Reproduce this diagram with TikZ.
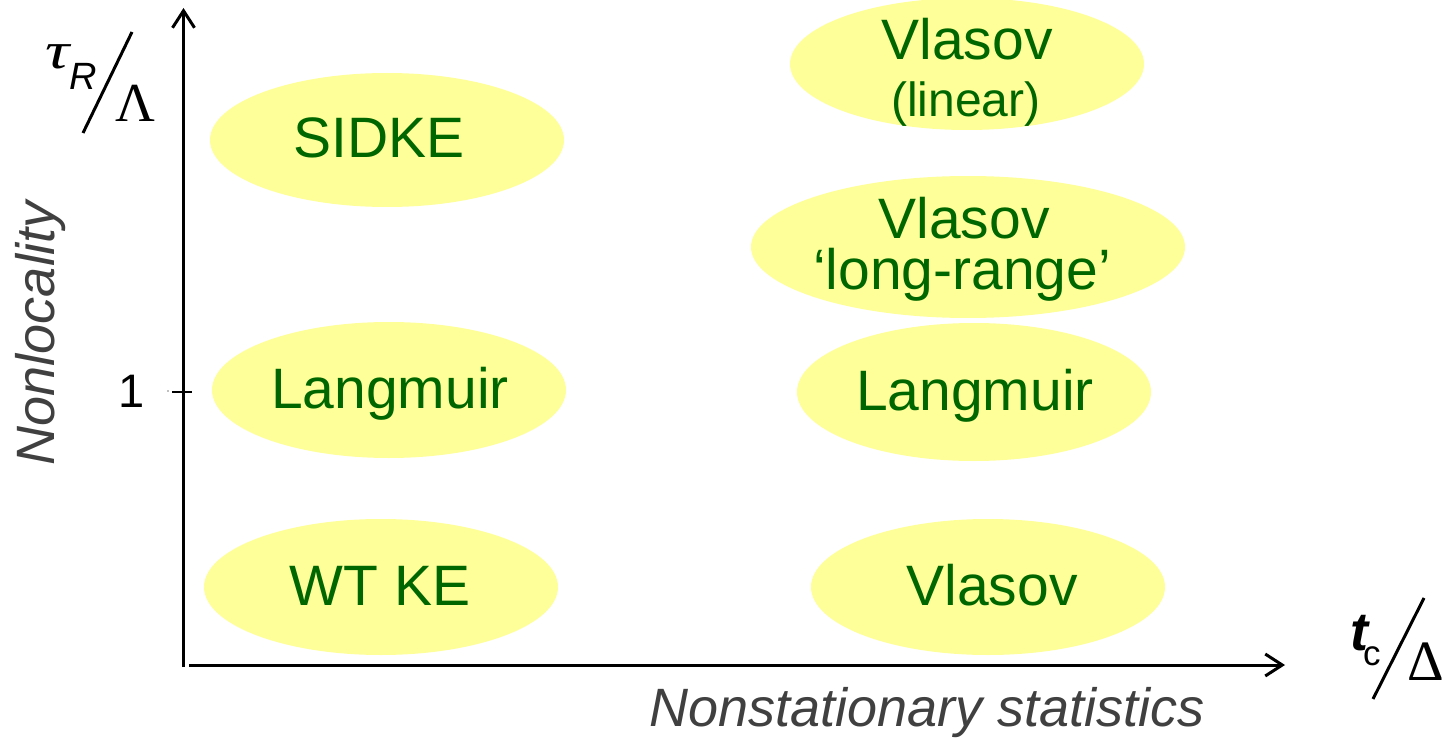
\documentclass[tikz,border=0pt]{standalone}
\usepackage{fontspec}
\setmainfont{Liberation Sans}
\newfontfamily\symserif{Liberation Serif}
\usetikzlibrary{arrows.meta,shapes.geometric}

\definecolor{bubblefill}{HTML}{FFFF99}
\definecolor{modelgreen}{HTML}{006600}
\definecolor{axisgray}{HTML}{404040}

\tikzset{
  bubble/.style={ellipse, fill=bubblefill, draw=none, inner sep=0pt},
  model/.style={anchor=base, inner sep=0pt, text=modelgreen,
                font=\fontsize{57}{57}\selectfont},
  modelsmall/.style={model, font=\fontsize{48}{48}\selectfont},
  axisline/.style={line width=3pt, -{Straight Barb[length=17pt,width=22pt,line width=3pt]}},
  axistitle/.style={inner sep=0pt, text=axisgray, font=\fontsize{54}{54}\selectfont\itshape},
  fracbar/.style={line width=3pt},
  sym/.style={inner sep=0pt, anchor=base west}
}

\begin{document}
\begin{tikzpicture}[x=1pt, y=-1pt]
  \useasboundingbox (0,0) rectangle (1443,738);

  % model regions
  \node[bubble, minimum width=354pt, minimum height=134pt] (sidke)  at (387,140) {};
  \node[bubble, minimum width=354pt, minimum height=136pt] (langL)  at (389,390) {};
  \node[bubble, minimum width=354pt, minimum height=136pt] (wtke)   at (381,587) {};
  \node[bubble, minimum width=354pt, minimum height=132pt] (vlin)   at (967,64) {};
  \node[bubble, minimum width=434pt, minimum height=142pt] (vlong)  at (968,247) {};
  \node[bubble, minimum width=354pt, minimum height=138pt] (langR)  at (974,392) {};
  \node[bubble, minimum width=354pt, minimum height=136pt] (vlasov) at (988,587) {};

  % model names
  \node[model] (tSidke)  at (379,158) {SIDKE};
  \node[model] (tLangL)  at (390,408) {Langmuir};
  \node[model] (tWtke)   at (380,605) {WT KE};
  \node[model] (tVlin)   at (967,60)  {Vlasov};
  \node[modelsmall] (tLin) at (966,117) {(linear)};
  \node[model] (tVlong)  at (964,239) {Vlasov};
  \node[model] (tLong)   at (962,289) {`long-range'};
  \node[model] (tLangR)  at (975,410) {Langmuir};
  \node[model] (tVlasov) at (992,605) {Vlasov};

  % axes
  \coordinate (ybot)  at (183.5,667);
  \coordinate (ytop)  at (183.5,8);
  \coordinate (xleft) at (189,665);
  \coordinate (xright) at (1285,665);
  \draw[axisline] (ybot) -- (ytop);
  \draw[axisline] (xleft) -- (xright);

  % unit tick on the vertical axis
  \coordinate (tickL) at (172,391.7);
  \coordinate (tickR) at (192,391.7);
  \draw[line width=2pt] (tickL) -- (tickR);
  \fill[gray] (168,391) circle (0.8pt);
  \node[inner sep=0pt, anchor=base east, font=\fontsize{47}{47}\selectfont] (one) at (145,407) {1};

  % axis titles
  \node[axistitle, rotate=90, anchor=base] (ylab) at (54,333) {Nonlocality};
  \node[axistitle, anchor=base] (xlab) at (927,726) {Nonstationary statistics};

  % tau_R / Lambda
  \node[sym, xscale=1.3] (tau) at (45,69) {\fontsize{52}{52}\selectfont\symserif\itshape τ};
  \node[sym] (tauR) at (69,90) {\fontsize{38}{38}\selectfont\itshape R};
  \coordinate (ybarTop) at (132,32);
  \coordinate (ybarBot) at (83,133);
  \draw[fracbar] (ybarTop) -- (ybarBot);
  \node[sym] (lam) at (115,122) {\fontsize{55}{55}\selectfont\symserif Λ};

  % t_c / Delta
  \node[sym] (tc) at (1350,650) {\fontsize{54}{54}\selectfont\bfseries\itshape t};
  \node[sym] (tcsub) at (1363,665) {\fontsize{35}{35}\selectfont c};
  \coordinate (xbarTop) at (1424,598);
  \coordinate (xbarBot) at (1373,699);
  \draw[fracbar] (xbarTop) -- (xbarBot);
  \node[sym] (del) at (1407,680) {\fontsize{57}{57}\selectfont\symserif Δ};
\end{tikzpicture}
\end{document}
